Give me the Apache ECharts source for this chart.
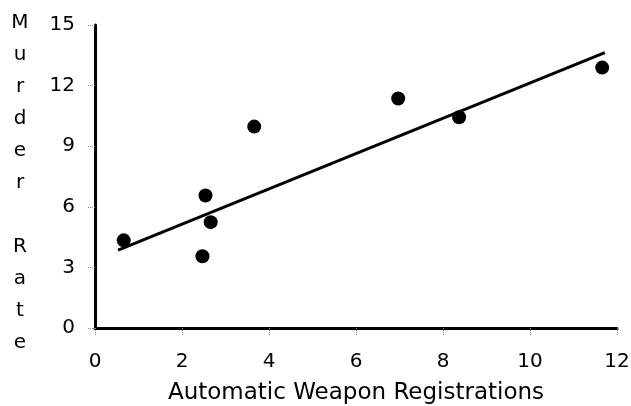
<!DOCTYPE html>
<html>
<head>
<meta charset="utf-8">
<script src="https://cdn.jsdelivr.net/npm/echarts@6/dist/echarts.min.js"></script>
<style>
html,body{margin:0;padding:0;background:#fff;}
#chart{width:631px;height:406px;}
</style>
</head>
<body>
<div id="chart"></div>
<script>
// Data
var registrations = [0.66, 2.47, 2.54, 2.66, 3.66, 6.97, 8.37, 11.66];
var murderRates   = [4.34, 3.55, 6.56, 5.24, 9.97, 11.36, 10.43, 12.89];
var fitX = [0.53, 11.72];
var fitY = [3.85, 13.63];
var xTitle = 'Automatic Weapon Registrations';
var yTitle = 'Murder Rate';

var scatterData = registrations.map(function (x, i) { return [x, murderRates[i]]; });
var fitData = fitX.map(function (x, i) { return [x, fitY[i]]; });
var yTitleStacked = yTitle.split('').join('\n');

var FONT = 'DejaVu Sans';
var chart = echarts.init(document.getElementById('chart'), null, {renderer: 'canvas'});
chart.setOption({
  backgroundColor: '#ffffff',
  animation: false,
  grid: {left: 95, right: 14, top: 25, bottom: 78, containLabel: false, outerBoundsMode: 'none'},
  graphic: [{
    type: 'text', x: 20, y: 7,
    style: {
      text: yTitleStacked, fontFamily: FONT, fontSize: 20, fill: '#000',
      lineHeight: 32, align: 'center', verticalAlign: 'top'
    }
  }],
  xAxis: {
    type: 'value', min: 0, max: 12, interval: 2,
    name: xTitle, nameLocation: 'middle', nameGap: 54,
    nameTextStyle: {fontFamily: FONT, fontSize: 23, color: '#000'},
    axisLine: {show: true, lineStyle: {color: '#000', width: 3}},
    axisTick: {show: true, length: 7, lineStyle: {color: '#888', width: 1, type: 'dotted'}},
    axisLabel: {fontFamily: FONT, fontSize: 20, color: '#000', margin: 24},
    splitLine: {show: false}
  },
  yAxis: {
    type: 'value', min: 0, max: 15, interval: 3,
    axisLine: {show: true, lineStyle: {color: '#000', width: 3}},
    axisTick: {show: true, length: 8, lineStyle: {color: '#888', width: 1, type: 'dotted'}},
    axisLabel: {fontFamily: FONT, fontSize: 20, color: '#000', margin: 20},
    splitLine: {show: false}
  },
  series: [
    {
      type: 'line', data: fitData, symbol: 'none',
      lineStyle: {color: '#000', width: 3}, z: 2
    },
    {
      type: 'scatter', data: scatterData, symbol: 'circle', symbolSize: 14,
      itemStyle: {color: '#000', opacity: 1}, z: 3
    }
  ]
});
</script>
</body>
</html>
